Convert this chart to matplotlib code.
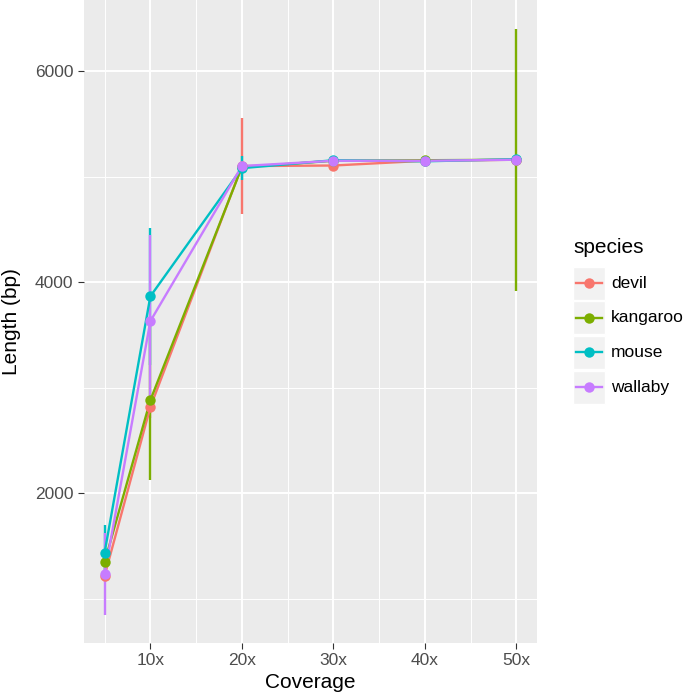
import matplotlib
matplotlib.use('Agg')
import matplotlib.pyplot as plt
from matplotlib.lines import Line2D
from matplotlib.patches import Rectangle
import numpy as np

plt.rcParams['font.family'] = ['Liberation Sans', 'DejaVu Sans']

coverage = [5, 10, 20, 30, 40, 50]
species = ['devil', 'kangaroo', 'mouse', 'wallaby']
colors = ['#F8766D', '#7CAE00', '#00BFC4', '#C77CFF']

length_mean = {
    'devil':    [1215, 2815, 5100, 5105, 5150, 5160],
    'kangaroo': [1345, 2880, 5090, 5150, 5155, 5160],
    'mouse':    [1435, 3865, 5080, 5155, 5145, 5165],
    'wallaby':  [1235, 3630, 5100, 5150, 5150, 5160],
}
length_sd = {
    'devil':    [60, 100, 455, 30, 20, 20],
    'kangaroo': [80, 760, 20, 20, 20, 1240],
    'mouse':    [265, 650, 115, 30, 20, 20],
    'wallaby':  [390, 815, 30, 20, 20, 20],
}
xticks = [10, 20, 30, 40, 50]
xtick_labels = ['10x', '20x', '30x', '40x', '50x']
yticks = [2000, 4000, 6000]

fig = plt.figure(figsize=(6.85, 6.98), dpi=100)
ax = fig.add_axes([84 / 685, 55 / 698, 453 / 685, 643 / 698])
ax.set_facecolor('#EBEBEB')
for s in ax.spines.values():
    s.set_visible(False)

# grid like ggplot: minor lines halfway between the major ones
for x in [5, 15, 25, 35, 45]:
    ax.axvline(x, color='white', lw=0.7, zorder=0)
for x in xticks:
    ax.axvline(x, color='white', lw=1.4, zorder=0)
for y in [1000, 3000, 5000]:
    ax.axhline(y, color='white', lw=0.7, zorder=0)
for y in yticks:
    ax.axhline(y, color='white', lw=1.4, zorder=0)

x = np.array(coverage)
for sp, col in zip(species, colors):
    m = np.array(length_mean[sp])
    sd = np.array(length_sd[sp])
    ax.vlines(x, m - sd, m + sd, color=col, lw=1.7, zorder=2)
for sp, col in zip(species, colors):
    ax.plot(x, length_mean[sp], color=col, lw=1.7, zorder=3)
for sp, col in zip(species, colors):
    ax.plot(x, length_mean[sp], 'o', color=col, ms=7.5, mec='none', zorder=4)

ax.set_xlim(2.75, 52.25)
ax.set_ylim(579, 6674)
ax.set_xticks(xticks)
ax.set_xticklabels(xtick_labels)
ax.set_yticks(yticks)
ax.tick_params(axis='both', colors='#333333', length=4, width=0.8,
               labelsize=12.5, labelcolor='#4D4D4D', pad=3.5)
ax.set_xlabel('Coverage', fontsize=15, labelpad=3)
ax.set_ylabel('Length (bp)', fontsize=15, labelpad=10)

# legend, ggplot style
fig.text(573 / 685, 1 - 248 / 698, 'species', fontsize=15, va='center', ha='left')
for i, (sp, col) in enumerate(zip(species, colors)):
    yc = 283 + i * 34.7
    fig.patches.append(Rectangle((573 / 685, 1 - (yc + 16.5) / 698), 32 / 685, 33 / 698,
                                 transform=fig.transFigure, facecolor='#F2F2F2',
                                 edgecolor='white', lw=1))
    fig.lines.append(Line2D([576 / 685, 602 / 685], [1 - yc / 698] * 2,
                            transform=fig.transFigure, color=col, lw=1.7))
    fig.lines.append(Line2D([589 / 685], [1 - yc / 698], transform=fig.transFigure,
                            marker='o', color=col, ms=7.5, mec='none'))
    fig.text(611 / 685, 1 - yc / 698, sp, fontsize=12.5, va='center', ha='left')

fig.savefig('out.png', dpi=100)
